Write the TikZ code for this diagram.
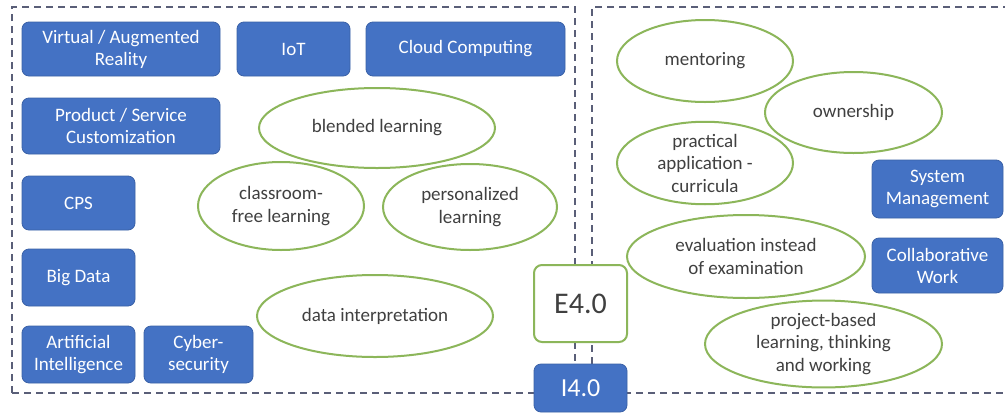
\documentclass[tikz,border=0pt]{standalone}
\usepackage{fontspec}
\setmainfont{Carlito}
\usetikzlibrary{shapes.geometric}
\definecolor{iblue}{HTML}{4472C4}
\definecolor{egreen}{HTML}{8CB65A}
\definecolor{txt}{HTML}{404040}
\definecolor{framec}{HTML}{5A5F78}
\begin{document}
\begin{tikzpicture}[x=1pt,y=-1pt,
  ibox/.style={draw=iblue!85!black, fill=iblue, rounded corners=7pt, text=white, align=center,
    font=\fontsize{19}{22}\selectfont, inner sep=0pt, line width=0.8pt},
  ell/.style={ellipse, draw=egreen, line width=2pt, fill=white, text=txt, align=center,
    font=\fontsize{19}{22.5}\selectfont, inner sep=0pt},
  framebox/.style={draw=framec, dash pattern=on 7pt off 5pt, line width=1.5pt}]
\useasboundingbox[fill=white] (0,0) rectangle (1005,416);
% frames
\draw[framebox] (12,393) -- (12,7) -- (575,7) -- (575,393);
\draw[framebox] (1010,7) -- (592,7) -- (592,393);
\draw[framebox] (12,393) -- (1010,393);
% left (I4.0) boxes
\node[ibox, minimum width=198pt, minimum height=54pt] (vr) at (121,49) {Virtual / Augmented\\Reality};
\node[ibox, minimum width=113pt, minimum height=54pt] (iot) at (293.5,49) {IoT};
\node[ibox, minimum width=199pt, minimum height=54pt] (cloud) at (465.5,49) {Cloud Computing};
\node[ibox, minimum width=198pt, minimum height=56pt] (psc) at (121,126) {Product / Service\\Customization};
\node[ibox, minimum width=113pt, minimum height=54pt] (cps) at (78.5,203) {CPS};
\node[ibox, minimum width=113pt, minimum height=57pt] (bd) at (78.5,277.5) {Big Data};
\node[ibox, minimum width=113pt, minimum height=57pt] (ai) at (78.5,354.5) {Artificial\\Intelligence};
\node[ibox, minimum width=109pt, minimum height=57pt] (cs) at (198.5,354.5) {Cyber-\\security};
% left ellipses
\node[ell, minimum width=236pt, minimum height=80pt] (bl) at (377,128) {blended learning};
\node[ell, minimum width=166pt, minimum height=88pt] (cfl) at (281,206) {classroom-\\free learning};
\node[ell, minimum width=174pt, minimum height=86pt] (pl) at (470,207) {personalized\\learning};
\node[ell, minimum width=236pt, minimum height=82pt] (di) at (375,316) {data interpretation};
% centre
\node[draw=egreen, line width=2pt, fill=white, rounded corners=8pt, minimum width=93pt, minimum height=77pt,
  text=txt, font=\fontsize{30}{34}\selectfont, inner sep=0pt] (e40) at (580.5,303.5) {E4.0};
\node[ibox, minimum width=93pt, minimum height=48pt, font=\fontsize{26}{30}\selectfont] (i40) at (580.5,388) {I4.0};
% right ellipses
\node[ell, minimum width=176pt, minimum height=82pt] (men) at (705,61) {mentoring};
\node[ell, minimum width=177pt, minimum height=81pt] (own) at (853.5,112.5) {ownership};
\node[ell, minimum width=176pt, minimum height=80pt] (pac) at (705,163) {practical\\application -\\curricula};
\node[ell, minimum width=238pt, minimum height=83pt] (eval) at (746,256.5) {evaluation instead\\of examination};
\node[ell, minimum width=237pt, minimum height=82pt] (pbl) at (823.5,344) {project-based\\learning, thinking\\and working};
% right boxes
\node[ibox, minimum width=131pt, minimum height=58pt] (sm) at (937.5,189) {System\\Management};
\node[ibox, minimum width=131pt, minimum height=55pt] (cw) at (937.5,265.5) {Collaborative\\Work};
\end{tikzpicture}
\end{document}
